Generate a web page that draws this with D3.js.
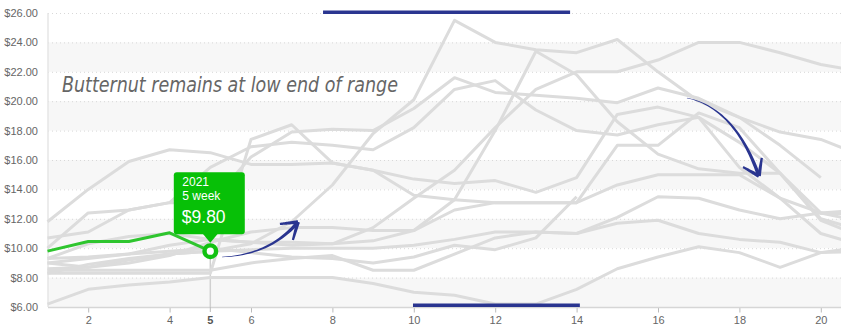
<!DOCTYPE html>
<html><head><meta charset="utf-8">
<script src="https://cdn.jsdelivr.net/npm/d3@7"></script>
<style>html,body{margin:0;padding:0;background:#fff;overflow:hidden}</style>
</head><body><svg id="c" width="841" height="334"></svg>
<script>
// ---------- data ----------
const weeks = d3.range(1, 22);
const yTickValues = [6, 8, 10, 12, 14, 16, 18, 20, 22, 24, 26];
const xTickValues = [2, 4, 6, 8, 10, 12, 14, 16, 18, 20];
const hoverWeek = 5;

const y2008 = [6.2,7.2,7.5,7.7,8.0,8.0,8.0,8.0,7.6,7.0,6.8,6.2,6.2,7.2,8.6,9.4,10.1,9.7,8.7,9.7,10.1];
const y2009 = [11.8,14.0,15.9,16.7,16.5,15.7,15.7,15.8,15.3,13.6,13.3,13.1,13.1,13.1,17.0,17.0,19.2,18.2,15.1,11.9,10.8];
const y2010 = [8.3,8.3,8.3,8.3,8.3,17.4,18.4,15.8,15.3,14.7,14.4,14.6,13.8,14.8,19.1,19.6,18.9,15.5,13.4,11.0,10.2];
const y2011 = [8.6,8.7,9.2,9.6,9.8,10.3,11.8,14.3,17.8,20.1,25.5,24.0,23.5,23.3,24.2,22.0,20.0,18.9,17.9,17.4,16.3];
const y2012 = [9.3,9.4,9.6,10.2,10.6,10.4,10.2,10.3,11.4,13.4,15.3,18.2,20.8,22.0,22.0,22.8,24.0,24.0,23.3,22.5,22.0];
const y2013 = [10.0,12.4,12.6,13.1,15.5,16.9,17.2,17.0,16.7,18.2,20.8,21.4,19.4,18.0,17.7,18.4,18.9,17.2,15.1,12.4,11.8];
const y2014 = [10.7,11.1,12.6,13.1,13.1,16.2,17.9,18.1,18.0,19.5,21.6,20.6,20.4,20.2,19.9,20.9,20.2,18.9,17.0,14.8];
const y2015 = [9.0,8.7,9.0,9.5,10.4,11.1,11.4,11.4,11.2,11.2,13.3,18.0,23.4,21.8,18.6,16.4,15.4,15.1,15.1,12.0,11.2];
const y2016 = [9.3,10.3,10.8,11.0,10.6,10.4,10.4,10.3,10.5,11.2,12.6,13.1,13.1,13.1,14.3,15.0,15.0,15.0,13.4,12.4,12.6];
const y2017 = [8.3,8.9,9.3,9.6,9.8,9.9,10.0,10.0,10.0,10.2,10.6,11.1,11.1,11.0,12.1,13.5,13.4,12.6,12.0,12.4,12.3];
const y2018 = [9.0,9.3,9.6,9.8,10.0,9.7,9.4,9.3,9.0,9.4,10.2,9.9,10.7,13.5];
const y2019 = [8.5,8.5,8.5,8.5,8.5,9.0,9.3,9.5,8.5,8.5,9.6,10.7,11.1,11.0,11.7,11.9,11.0,10.6,10.4,9.7,9.8];
const y2021 = [9.8,10.45,10.45,11.05,9.8];

const pastYears = [y2008, y2009, y2010, y2011, y2012, y2013, y2014, y2015, y2016, y2017, y2018, y2019];
const currentYear = "2021";
const titleText = "Butternut remains at low end of range";

// annotations in data units (week, price)
const rangeTop = [[7.77, 26.05], [13.84, 26.05]];
const rangeBottom = [[9.98, 6.12], [14.08, 6.12]];
const arrowUp = { from: [5.29, 9.40], ctrl: [6.47, 9.54], to: [7.155, 11.78], barbs: [[6.71, 11.65], [7.03, 10.56]] };
const arrowDown = { from: [16.71, 20.22], ctrl: [17.89, 19.54], to: [18.48, 14.91], barbs: [[18.09, 15.52], [18.55, 16.14]] };

// ---------- chart ----------
const W = 841, H = 334;
const svg = d3.select("#c");
const x = d3.scaleLinear().domain([1, 21]).range([47.5, 861.5]);
const y = d3.scaleLinear().domain([6, 26]).range([307, 13]);
const plotL = 48, plotR = W, plotT = y(26), plotB = y(6);

svg.append("defs").append("clipPath").attr("id", "clip")
  .append("rect").attr("x", plotL - 2).attr("y", 0).attr("width", plotR - plotL + 2).attr("height", H);

// bands
const bandStarts = d3.range(6, 26, 2).filter((v, i) => i % 2 === 0);
svg.append("g").selectAll("rect").data(bandStarts).join("rect")
  .attr("x", plotL).attr("width", plotR - plotL)
  .attr("y", d => y(d + 2)).attr("height", d => y(d) - y(d + 2))
  .attr("fill", "#f7f7f7");

// grid
svg.append("g").selectAll("line").data(yTickValues).join("line")
  .attr("x1", plotL).attr("x2", plotR)
  .attr("y1", d => y(d) + 0.5).attr("y2", d => y(d) + 0.5)
  .attr("stroke", "#d8d8d8").attr("stroke-dasharray", "1,3");

// y axis labels
svg.append("g").selectAll("text").data(yTickValues).join("text")
  .attr("x", 38).attr("y", d => y(d) + 4)
  .attr("text-anchor", "end")
  .attr("font-family", "Liberation Sans, Arial, sans-serif").attr("font-size", 11)
  .attr("fill", "#666")
  .text(d => "$" + d.toFixed(2));

// y axis line
svg.append("line").attr("x1", plotL).attr("x2", plotL).attr("y1", plotT).attr("y2", plotB)
  .attr("stroke", "#e6e6e6").attr("stroke-width", 1.5);

// x axis
const xAxis = d3.axisBottom(x).tickValues(xTickValues).tickSize(5).tickPadding(4).tickFormat(d3.format("d"));
const gx = svg.append("g").attr("transform", `translate(0,${plotB + 0.5})`).call(xAxis);
gx.select(".domain").remove();
gx.selectAll(".tick line").attr("stroke", "#bbb");
gx.selectAll(".tick text").attr("fill", "#666").attr("font-size", 11)
  .attr("font-family", "Liberation Sans, Arial, sans-serif");
svg.append("line").attr("x1", plotL).attr("x2", plotR).attr("y1", plotB + 0.5).attr("y2", plotB + 0.5)
  .attr("stroke", "#d6d6d6").attr("stroke-width", 1.5);
svg.append("text").attr("x", x(hoverWeek)).attr("y", plotB + 17)
  .attr("text-anchor", "middle").attr("font-family", "Liberation Sans, Arial, sans-serif")
  .attr("font-size", 11).attr("font-weight", "bold").attr("fill", "#555").text(hoverWeek);
svg.append("line").attr("x1", x(hoverWeek)).attr("x2", x(hoverWeek)).attr("y1", plotB).attr("y2", plotB + 5)
  .attr("stroke", "#bbb");

// crosshair
svg.append("line").attr("x1", x(hoverWeek)).attr("x2", x(hoverWeek))
  .attr("y1", y(y2021[hoverWeek - 1])).attr("y2", plotB)
  .attr("stroke", "#d0d0d0").attr("stroke-width", 1.5);

// lines
const line = d3.line().x((d, i) => x(weeks[i])).y(d => y(d));
const gLines = svg.append("g").attr("clip-path", "url(#clip)");
gLines.selectAll("path.past").data(pastYears).join("path").attr("class", "past")
  .attr("d", line).attr("fill", "none").attr("stroke", "#dcdcdc").attr("stroke-width", 3)
  .attr("stroke-linejoin", "round");

// range bars
const navy = "#2a3590";
[rangeTop, rangeBottom].forEach(r => {
  svg.append("line").attr("x1", x(r[0][0])).attr("x2", x(r[1][0]))
    .attr("y1", y(r[0][1])).attr("y2", y(r[1][1]))
    .attr("stroke", navy).attr("stroke-width", 3.5);
});

// title
svg.append("text").attr("x", x(1.355)).attr("y", y(20.6))
  .attr("font-family", "DejaVu Sans, sans-serif").attr("font-style", "italic")
  .attr("font-weight", 300)
  .attr("font-size", 21).attr("fill", "#666")
  .attr("textLength", 336).attr("lengthAdjust", "spacingAndGlyphs")
  .text(titleText);

// current year line
gLines.append("path").datum(y2021).attr("d", line).attr("fill", "none")
  .attr("stroke", "#2ec52e").attr("stroke-width", 3).attr("stroke-linejoin", "round");

// tapered arrows
function taper(p0, p1, p2, w0, w1) {
  const pts = [], n = 30;
  for (let i = 0; i <= n; i++) {
    const t = i / n, u = 1 - t;
    const px = u*u*p0[0] + 2*u*t*p1[0] + t*t*p2[0];
    const py = u*u*p0[1] + 2*u*t*p1[1] + t*t*p2[1];
    let dx = 2*u*(p1[0]-p0[0]) + 2*t*(p2[0]-p1[0]);
    let dy = 2*u*(p1[1]-p0[1]) + 2*t*(p2[1]-p1[1]);
    const L = Math.hypot(dx, dy) || 1; dx /= L; dy /= L;
    const w = (w0 + (w1 - w0) * t) / 2;
    pts.push([px, py, -dy * w, dx * w]);
  }
  const left = pts.map(p => [p[0] + p[2], p[1] + p[3]]);
  const right = pts.map(p => [p[0] - p[2], p[1] - p[3]]).reverse();
  return d3.line()(left.concat(right)) + "Z";
}
function drawArrow(a) {
  const P = d => [x(d[0]), y(d[1])];
  const g = svg.append("g").attr("fill", navy);
  g.append("path").attr("d", taper(P(a.from), P(a.ctrl), P(a.to), 0.4, 3.6));
  a.barbs.forEach(b => {
    const tip = P(a.to), e = P(b);
    const mid = [(tip[0] + e[0]) / 2, (tip[1] + e[1]) / 2];
    g.append("path").attr("d", taper(e, mid, tip, 2.2, 3.8));
  });
}
drawArrow(arrowUp);
drawArrow(arrowDown);

// hover point
const px = x(hoverWeek), py = y(y2021[hoverWeek - 1]);
svg.append("circle").attr("cx", px).attr("cy", py).attr("r", 5.8)
  .attr("fill", "#fff").attr("stroke", "#12c212").attr("stroke-width", 4.4);

// tooltip
const tip = svg.append("g").attr("transform", `translate(${px},${py})`);
const tipColor = "#07c007";
tip.append("rect").attr("x", -36.5).attr("y", -79).attr("width", 71).attr("height", 62).attr("rx", 3)
  .attr("fill", tipColor);
tip.append("path").attr("d", "M-7.5,-17.5L7.5,-17.5L0,-8.5Z").attr("fill", tipColor);
const tf = "Liberation Sans, Arial, sans-serif";
tip.append("text").attr("x", -28).attr("y", -65.5).attr("font-family", tf).attr("font-size", 12)
  .attr("fill", "#fff").text(currentYear);
tip.append("text").attr("x", -28).attr("y", -51.5).attr("font-family", tf).attr("font-size", 12)
  .attr("fill", "#fff").text(hoverWeek + " week");
tip.append("text").attr("x", -28.5).attr("y", -28).attr("font-family", tf).attr("font-size", 17.5)
  .attr("fill", "#fff").text("$" + y2021[hoverWeek - 1].toFixed(2));
</script>
</body></html>
